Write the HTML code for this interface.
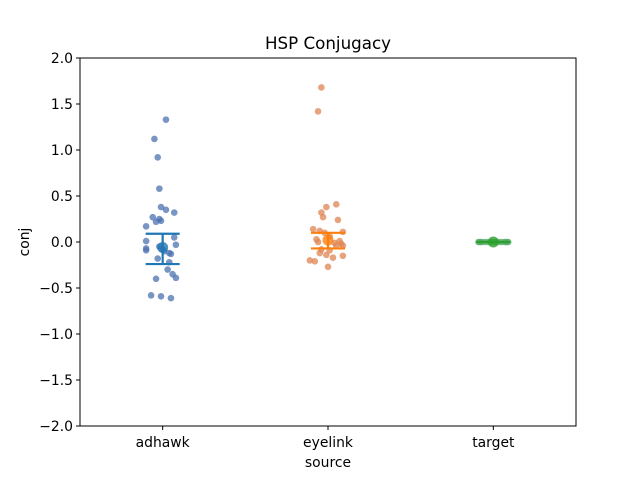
<!DOCTYPE html>
<html><head><meta charset="utf-8"><style>
body{margin:0;background:#fff}
svg{display:block;font-family:"DejaVu Sans","Liberation Sans",sans-serif}
</style></head><body>
<svg id="c" width="640" height="480"></svg>
<script>
const categories=["adhawk","eyelink","target"];
const colors=["#4c72b0","#dd8452","#55a868"];
const meanColors=["#1f77b4","#ff7f0e","#2ca02c"];
const adhawkVals=[1.33,1.12,0.92,0.58,0.38,0.35,0.32,0.27,0.25,0.23,0.22,0.17,0.01,0.05,-0.03,-0.07,-0.09,-0.05,-0.13,-0.12,-0.18,-0.22,-0.30,-0.35,-0.39,-0.40,-0.58,-0.59,-0.61,-0.08,-0.10];
const adhawkJit=[0.02,-0.05,-0.03,-0.02,-0.01,0.02,0.07,-0.06,-0.02,-0.01,-0.04,-0.1,-0.1,0.07,0.08,-0.1,-0.1,-0.02,0.05,0.04,-0.03,0.04,0.03,0.06,0.08,-0.04,-0.07,-0.01,0.05,0.0,0.01];
const eyelinkVals=[1.68,1.42,0.41,0.38,0.32,0.27,0.24,0.14,0.12,0.11,0.10,0.06,0.0,-0.01,0.01,-0.04,-0.08,-0.20,-0.21,-0.27,-0.15,-0.17,-0.14,-0.12,-0.09,-0.04,0.03,-0.02];
const eyelinkJit=[-0.04,-0.06,0.05,-0.01,-0.04,-0.03,0.06,-0.09,-0.05,0.09,-0.02,0.01,-0.06,0.04,0.07,0.09,-0.04,-0.11,-0.08,0.0,0.09,0.03,-0.01,-0.05,0.01,0.05,-0.07,0.08];
const targetVals=[0,0,0,0,0,0,0,0,0,0,0,0];
const targetJit=[-0.09,-0.07,-0.05,-0.03,-0.01,0.01,0.03,0.05,0.07,0.09,-0.08,0.08];
const means=[-0.06,0.02,0.0];
const ciLow=[-0.24,-0.07,0.0];
const ciHigh=[0.09,0.10,0.0];
const yTicks=[-2,-1.5,-1,-0.5,0,0.5,1,1.5,2];
const L=80,R=576,T=58,B=426;
const X=i=>L+(i+0.5)*(R-L)/3;
const Y=v=>T+(2-v)*(B-T)/4;
const svg=document.getElementById('c');const NS="http://www.w3.org/2000/svg";
function mk(t,a,p){const e=document.createElementNS(NS,t);for(const k in a)e.setAttribute(k,a[k]);(p||svg).appendChild(e);return e;}
let t=mk('text',{x:328,y:49,'text-anchor':'middle','font-size':16.7});t.textContent="HSP Conjugacy";


const sets=[[adhawkVals,adhawkJit],[eyelinkVals,eyelinkJit],[targetVals,targetJit]];
sets.forEach((s,i)=>{const g=mk('g',{});


s[0].forEach((v,j)=>{const c=mk('circle',{cx:X(i+s[1][j]),cy:Y(v),r:3.3,fill:colors[i],'fill-opacity':0.75},g);

});});
means.forEach((m,i)=>{const g=mk('g',{stroke:meanColors[i],'stroke-width':2.2});


const x=X(i);
mk('line',{x1:x,x2:x,y1:Y(ciLow[i]),y2:Y(ciHigh[i])},g);
mk('line',{x1:x-17,x2:x+17,y1:Y(ciLow[i]),y2:Y(ciLow[i])},g);
mk('line',{x1:x-17,x2:x+17,y1:Y(ciHigh[i]),y2:Y(ciHigh[i])},g);
mk('circle',{cx:x,cy:Y(m),r:5.5,fill:meanColors[i],'fill-opacity':0.8,stroke:'none'},g);});
const ax=mk('rect',{x:L,y:T,width:R-L,height:B-T,fill:'none',stroke:'#000','stroke-width':1});


yTicks.forEach(v=>{const y=Y(v);mk('line',{x1:L-4,x2:L,y1:y,y2:y,stroke:'#000'});
const tx=mk('text',{x:L-7,y:y+5,'text-anchor':'end','font-size':13.9});tx.textContent=v.toFixed(1).replace('-','\u2212');

});
categories.forEach((c,i)=>{const x=X(i);mk('line',{x1:x,x2:x,y1:B,y2:B+4,stroke:'#000'});
const tx=mk('text',{x:x,y:B+21,'text-anchor':'middle','font-size':13.9});tx.textContent=c;

});
t=mk('text',{x:328,y:467,'text-anchor':'middle','font-size':13.9});t.textContent="source";


t=mk('text',{x:0,y:0,'text-anchor':'middle','font-size':13.9,transform:'translate(29,242) rotate(-90)'});t.textContent="conj";


</script>
</body></html>
